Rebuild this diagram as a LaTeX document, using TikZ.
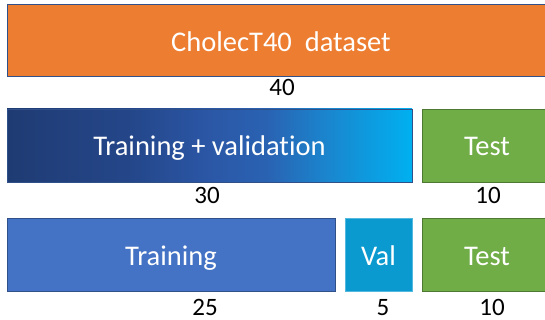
\documentclass[tikz,border=0pt]{standalone}
\usepackage{fontspec}
\setmainfont{Carlito}[Ligatures=NoCommon]
\usepackage{tikz}
\usepackage{xcolor}
\definecolor{setorange}{HTML}{ED7D31}
\definecolor{setgreen}{HTML}{70AD47}
\definecolor{setblue}{HTML}{4472C4}
\definecolor{setval}{HTML}{0A9AD0}
\definecolor{gradA}{HTML}{1F3B73}
\definecolor{gradB}{HTML}{244689}
\definecolor{gradC}{HTML}{2B57A6}
\definecolor{gradD}{HTML}{2A62B2}
\definecolor{gradE}{HTML}{1988D0}
\definecolor{gradF}{HTML}{00B0F0}
% the box is mapped onto 25bp--75bp of the shading
\pgfdeclarehorizontalshading{trainvalshade}{100bp}{
  color(0bp)=(gradA);
  color(25bp)=(gradA);
  color(40bp)=(gradB);
  color(50bp)=(gradC);
  color(57bp)=(gradD);
  color(65bp)=(gradE);
  color(75bp)=(gradF);
  color(100bp)=(gradF)}
\tikzset{
  part/.style={draw=#1!70!black, line width=0.6pt},
  boxtext/.style={text=white, anchor=base, font=\fontsize{28.5}{32}\selectfont},
  count/.style={text=black, anchor=base, inner sep=0pt, font=\fontsize{25}{28}\selectfont}
}

\begin{document}
\begin{tikzpicture}[x=1pt,y=-1pt]
  \useasboundingbox (0,0) rectangle (545,320);
  \clip (0,0) rectangle (545,320);
  % full dataset
  \draw[part=setblue, fill=setorange] (7,4) rectangle (556,76);
  \node[boxtext] (data) at (281,52) {CholecT40\ \ dataset};
  \node[count] (n40) at (282,96) {40};
  % first split
  \draw[part=setblue, shading=trainvalshade] (7,109) rectangle (412,182);
  \node[boxtext] (trainval) at (209.5,156) {Training + validation};
  \draw[part=setgreen, fill=setgreen] (422,109) rectangle (556,182);
  \node[boxtext] (testa) at (487,156) {Test};
  \node[count] (n30) at (207,204) {30};
  \node[count] (n10a) at (488,204) {10};
  % second split
  \draw[part=setblue, fill=setblue] (7,218) rectangle (335,291);
  \node[boxtext] (train) at (171,265.5) {Training};
  \draw[draw=setval!70!white, fill=setval] (345,218) rectangle (412,291);
  \node[boxtext] (val) at (378.5,265.5) {Val};
  \draw[part=setgreen, fill=setgreen] (422,218) rectangle (556,291);
  \node[boxtext] (testb) at (487,265.5) {Test};
  \node[count] (n25) at (205,315.5) {25};
  \node[count] (n5) at (383,315.5) {5};
  \node[count] (n10b) at (492,315.5) {10};
\end{tikzpicture}
\end{document}
